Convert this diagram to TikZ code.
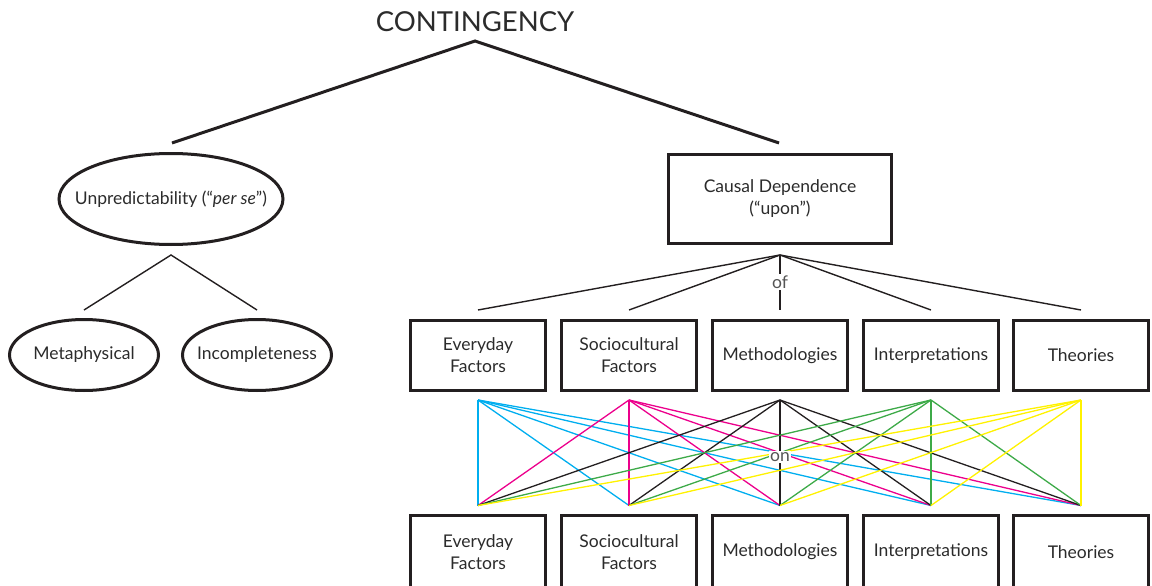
\documentclass[tikz,border=0pt]{standalone}
\usepackage{fontspec}
\setmainfont{Lato}
\usetikzlibrary{shapes.geometric}
\definecolor{ink}{HTML}{231F20}
\definecolor{txt}{HTML}{2B2B2B}
\definecolor{lblc}{HTML}{555555}
\definecolor{cy}{HTML}{00AEEF}
\definecolor{mg}{HTML}{EC008C}
\definecolor{gr}{HTML}{3DAA48}
\definecolor{yl}{HTML}{FFF200}
\begin{document}
\begin{tikzpicture}[x=1pt,y=-1pt,
  boxtxt/.style={font=\fontsize{17.5}{22}\selectfont,text=txt,align=center},
  box/.style={boxtxt,draw=ink,line width=3pt,minimum width=135pt,minimum height=70pt,inner sep=0pt},
  ell/.style={boxtxt,ellipse,draw=ink,line width=3pt,inner ysep=0pt,inner xsep=-30pt},
  heavy/.style={draw=ink,line width=3pt},
  thin/.style={draw=ink,line width=1.4pt},
  cross/.style={line width=1.3pt},
  lbl/.style={fill=white,inner sep=1.5pt,text=lblc,font=\fontsize{17.5}{18}\selectfont}
]
\useasboundingbox (0,0) rectangle (1152,586);

% title
\node[font=\fontsize{27.5}{30}\selectfont,text=txt] (title) at (475,22) {CONTINGENCY};
\coordinate (apex) at (475,41);
\coordinate (lt) at (172,143);
\coordinate (rt) at (779,143);
\draw[heavy] (lt) -- (apex) -- (rt);

% left branch
\node[ell,minimum width=224pt,minimum height=91pt] (unp) at (171,199) {Unpredictability (“\textit{per se}”)};
\node[ell,minimum width=149pt,minimum height=71pt] (meta) at (84,355) {Metaphysical};
\node[ell,minimum width=149pt,minimum height=71pt] (inc) at (257,355) {Incompleteness};
\coordinate (ua) at (171,255);
\draw[thin] ([yshift=8pt]meta.north) -- (ua) -- ([yshift=8pt]inc.north);

% right branch
\node[box,minimum width=223pt,minimum height=89pt] (cd) at (780,199) {Causal Dependence\\(“upon”)};
\coordinate (ca) at (780,255);

\foreach \n/\x/\t in {1/478/{Everyday\\Factors},2/629/{Sociocultural\\Factors},3/780/{Methodologies},4/931/{Interpretations},5/1081/{Theories}}{
  \node[box] (t\n) at (\x,355.5) {\t};
  \node[box,minimum height=73pt] (b\n) at (\x,552) {\t};
}

\foreach \n in {1,...,5}{
  \draw[thin] (ca) -- ([yshift=9pt]t\n.north);
}
\node[lbl] (of) at (780,282) {of};

% crossing connections
\foreach \i/\c in {1/cy,2/mg,3/ink,4/gr,5/yl}{
  \foreach \j in {1,...,5}{
    \draw[cross,draw=\c] ([yshift=-8pt]t\i.south) -- ([yshift=8.5pt]b\j.north);
  }
}
\node[lbl] (on) at (780,457) {on};
\end{tikzpicture}
\end{document}
